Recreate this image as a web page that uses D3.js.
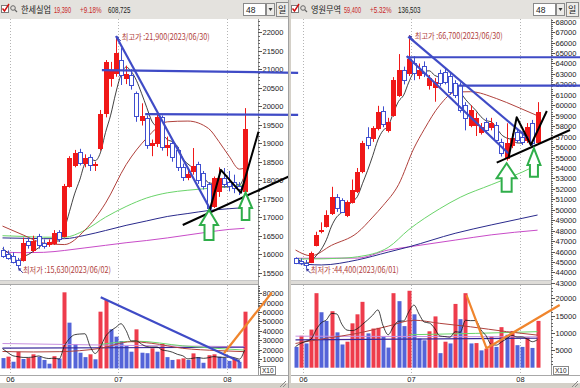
<!DOCTYPE html>
<html><head><meta charset="utf-8">
<script src="https://cdn.jsdelivr.net/npm/d3@7"></script>
<style>
html,body{margin:0;padding:0;background:#d4d0c8;}
svg{display:block;font-family:"Liberation Sans",Arial,sans-serif;}
</style></head><body>
<svg id="chart" width="580" height="388"></svg>
<script>
// ---------------- DATA ----------------
const dates = ["05/30","05/31","06/01","06/02","06/05","06/07","06/08","06/09","06/12","06/13","06/14","06/15","06/16","06/19","06/20","06/21","06/22","06/23","06/26","06/27","06/28","06/29","06/30","07/03","07/04","07/05","07/06","07/07","07/10","07/11","07/12","07/13","07/14","07/17","07/18","07/19","07/20","07/21","07/24","07/25","07/26","07/27","07/28","07/31","08/01","08/02","08/03","08/04"];

// 한세실업
const hsOpen  = [16100,16000,15950,15850,15850,16350,16120,16490,16300,16280,16300,16600,16480,17850,18410,18770,18470,18640,18420,18860,19810,20770,20890,21250,20770,20845,20350,19630,19680,18950,19000,19700,18900,19000,18820,18360,18100,18250,18450,18200,17900,17300,17700,18050,17950,17950,17850,17700];
const hsHigh  = [16200,16100,16050,15900,16450,16450,16500,16550,16400,16400,16650,16650,17900,18650,18820,18850,18700,18700,18500,19900,21250,21200,21900,21575,21100,21000,20400,20080,19750,19100,19780,19750,19180,19050,18900,18450,18300,18870,18500,18250,17950,18100,18350,18330,18250,18150,17950,19950];
const hsLow   = [15900,15850,15750,15630,15800,16150,16050,16150,16150,16200,16250,16330,16450,17800,18350,18400,18350,18250,18250,18800,19700,20530,20800,20575,20600,20450,19580,19480,18850,18650,18900,18800,18650,18500,18250,17980,18000,18150,17900,17750,17200,17250,17550,17800,17700,17650,17600,17650];
const hsClose = [15950,15900,15800,15700,16290,16250,16370,16250,16220,16340,16570,16400,17840,18600,18740,18470,18600,18420,18440,19780,21200,20950,21450,20850,20860,20580,19740,19740,18950,19000,19700,18900,18950,18630,18360,18090,18180,18380,18000,17850,17250,18050,18050,17900,17850,17800,17760,19390];
const hsVolume = [11000,12500,7100,17800,10000,11000,15000,12500,9000,5000,13000,10500,81000,48700,26000,16700,12000,15000,9700,60400,72800,41600,33800,29200,23900,17800,41600,16700,16200,21400,17800,26000,12000,9000,9700,10700,9000,16000,12000,6000,14000,15000,12500,11500,8000,10500,7000,60400];
const hsMa5   = [16150,16050,15930,15820,15930,15990,16080,16170,16280,16290,16350,16360,16670,17150,17630,18010,18450,18570,18530,18740,19290,19760,20360,20850,21060,20940,20700,20350,19970,19600,19430,19260,19100,19040,18910,18590,18440,18330,18200,18100,17930,17910,17840,17820,17820,17930,17870,18140];
const hsMa20  = [[0,16760],[4,16520],[8,16300],[12,16260],[16,16650],[20,17380],[24,18420],[28,19140],[32,19580],[36,19600],[40,19400],[42,19050],[44,18650],[46,18300],[47,18330]];
const hsMa60  = [[0,16500],[4,16480],[8,16460],[12,16460],[16,16650],[20,17000],[24,17290],[28,17520],[32,17660],[36,17730],[40,17780],[44,17830],[47,17870]];
const hsMa120 = [[0,16440],[4,16430],[8,16420],[12,16420],[16,16510],[20,16640],[24,16780],[28,16900],[32,17020],[36,17100],[40,17180],[44,17230],[47,17260]];
const hsMa240 = [[0,16060],[4,16040],[8,16050],[12,16100],[16,16170],[20,16240],[24,16310],[28,16370],[32,16440],[36,16520],[40,16600],[44,16670],[47,16700]];
const hsVolMa5 = [21000,17000,13500,12500,11680,11680,12180,13260,11500,10500,10900,10000,23700,31640,35840,36580,36880,23680,15880,22760,33980,39900,43660,47560,40260,29260,29260,25840,23240,22740,22740,19620,18680,17240,14900,13480,10080,10880,11480,10740,11400,12600,11900,11800,12200,11500,9900,19480];
const hsVolMa20 = [[0,18000],[6,17500],[11,17800],[19,21400],[25,28400],[29,26700],[35,21400],[42,18900],[47,17800]];
const hsVolMa60 = [[19,25500],[26,29000],[35,24000],[47,19500]];
const hsVolMa120 = [[0,21500],[47,22500]];
const hsVolMa240 = [[0,26500],[24,24500],[47,23100]];
const hsPriceTicks = [22000,21500,21000,20500,20000,19500,19000,18500,18000,17500,17000,16500,16000,15500];
const hsVolTicks = [80000,70000,60000,50000,40000,30000,20000,10000];

// 영원무역
const ywOpen  = [45350,45100,44950,45000,46630,47960,48440,49670,51260,50930,49500,50770,51800,53700,57000,56840,57800,59480,57640,59070,60990,63380,63060,64020,62940,63760,61940,61780,63060,63210,62800,62100,61940,60030,58110,58110,57480,58430,57900,58110,56520,54930,56200,57480,57000,56680,58300,56500];
const ywHigh  = [45450,45350,45200,46000,47900,48800,49950,52200,51500,51100,50900,52900,54000,56600,57900,58000,59950,59900,58800,62700,64900,63700,66700,64700,64000,64200,62900,62600,63400,63600,63100,62400,62200,60300,60000,59300,58300,58800,58800,58400,56800,58280,57300,57800,57500,58300,58600,60300];
const ywLow   = [44800,44700,44400,44900,46500,47750,48300,49500,49800,49700,49300,50600,51600,53500,55800,56500,57600,57900,57400,58900,60800,62000,62800,62400,62500,62700,61500,60340,61800,62000,61000,60700,59300,57600,57900,57060,57200,57300,57600,56500,55100,54700,55900,56400,56200,56400,56000,56300];
const ywClose = [44950,44900,44700,45830,47580,48060,49490,51260,50150,49810,50770,51890,53650,56360,56200,57800,59390,58210,58430,62420,63380,62420,64400,63120,63330,63060,62580,62260,62100,62260,61300,60990,59550,58750,59550,58750,57950,57640,58270,56680,55400,56360,56900,56680,56500,57950,56400,59400];
const ywVolume = [6000,9200,7000,11000,21500,16000,13500,16300,10200,6700,7500,12800,15400,19000,9900,11300,11500,9000,5800,21500,19200,12000,22200,15400,8400,7900,10500,14800,4200,7500,7000,18400,14000,21500,7000,7100,5000,5500,9000,6000,11700,9500,10600,6500,6000,8700,5700,13500];
const ywMa5   = [45300,45100,44900,45100,45590,46210,47130,48440,49310,49750,50300,50780,51250,52500,53770,55180,56680,57590,58010,59250,60370,60970,62210,63150,63330,63270,63300,62870,62670,62450,62100,61780,61240,60570,60030,59520,58910,58530,58430,57860,57190,56870,56720,56400,56370,56880,56890,57390];
const ywMa20  = [[0,46150],[3,45600],[7,46600],[12,47800],[15,49300],[17,50400],[20,52400],[23,55900],[25,57700],[28,60000],[31,61250],[34,61300],[39,60650],[43,59850],[47,59000]];
const ywMa60  = [[0,45300],[3,45300],[8,45350],[12,45500],[18,46400],[22,48100],[28,50100],[32,51200],[38,52400],[44,53600],[47,54300]];
const ywMa120 = [[0,44880],[5,44720],[12,45200],[18,45950],[22,46450],[31,47750],[38,48550],[44,49180],[47,49500]];
const ywMa240 = [[0,45360],[12,45380],[18,46150],[22,46450],[31,47100],[38,47600],[47,48050]];
const ywVolMa5 = [6100,7000,7600,8200,10940,12940,13800,15660,15500,12540,10840,10700,11250,12500,13770,15180,16680,12140,9500,11820,13400,13500,16140,18060,15440,13180,12880,11400,9160,8980,8800,10380,10220,13680,13580,13600,10920,9220,6720,6520,7440,8340,9360,8860,8860,8260,7500,8080];
const ywVolMa20 = [[0,7000],[6,8500],[12,9900],[18,12000],[23,13700],[28,12800],[34,11800],[41,10400],[47,9400]];
const ywVolMa60 = [[22,9500],[35,9900],[47,10400]];
const ywVolMa120 = [[0,8000],[47,8500]];
const ywVolMa240 = [[0,9100],[47,8900]];
const ywPriceTicks = [68000,67000,66000,65000,64000,63000,62000,61000,60000,59000,58000,57000,56000,55000,54000,53000,52000,51000,50000,49000,48000,47000,46000,45000,44000,43000];
const ywVolTicks = [20000,15000,10000,5000];

// ---------------- DRAW ----------------
const svg = d3.select("#chart");
const defs = svg.append("defs");
const L = {
  bg: svg.append("g"), grid: svg.append("g"), content: svg.append("g"),
  anno: svg.append("g"), top: svg.append("g")
};
const C = {
  up: "#f01818", down: "#3f4fcf", vUp: "#ee3c4c", vDown: "#5464d8",
  ma5: "#111", ma20: "#b0413c", ma60: "#6ad46a", ma120: "#2a2a8c", ma240: "#c84cc8",
  trend: "#3f4bc6", black: "#000", orange: "#f0852d", green: "#2fae4a", txt: "#222"
};
const TOP = 19, PBOT = 280, VTOP = 285, XTOP = 375, BOT = 383;

function header(ox, name, price, chg, vol) {
  const g = L.top.append("g");
  g.append("rect").attr("x", ox).attr("y", 0).attr("width", 290).attr("height", TOP).attr("fill", "#e4e2de");
  g.append("rect").attr("x", ox + 1.5).attr("y", 5.5).attr("width", 7).attr("height", 7).attr("fill", "#fff").attr("stroke", "#7a7a7a");
  g.append("path").attr("d", `M${ox+2.5},8.5 L${ox+4.5},11 L${ox+9},4`).attr("fill", "none").attr("stroke", "#d01010").attr("stroke-width", 1.4);
  g.append("circle").attr("cx", ox + 13).attr("cy", 8).attr("r", 2.3).attr("fill", "none").attr("stroke", "#666");
  g.append("line").attr("x1", ox + 14.7).attr("y1", 9.7).attr("x2", ox + 17).attr("y2", 12).attr("stroke", "#666").attr("stroke-width", 1.2);
  const t = (x, s, len, col, fam) => g.append("text").attr("x", ox + x).attr("y", 12.5).text(s)
      .attr("font-size", 9).attr("fill", col).attr("textLength", len).attr("lengthAdjust", "spacingAndGlyphs")
      .style("font-family", fam || "'Liberation Sans',Arial,sans-serif");
  t(21, name, 30, "#222", "'Noto Sans CJK KR',sans-serif");
  t(54, price, 17, "#c82828");
  t(80, chg, 21.5, "#c82828");
  t(108, vol, 22.5, "#222");
  g.append("rect").attr("x", ox + 243.5).attr("y", 3.5).attr("width", 22).attr("height", 12).attr("fill", "#fff").attr("stroke", "#8a8a8a");
  g.append("text").attr("x", ox + 246).attr("y", 12.5).attr("font-size", 8.5).attr("fill", "#222").text("48");
  g.append("rect").attr("x", ox + 266.5).attr("y", 3.5).attr("width", 8).attr("height", 12).attr("fill", "#ecebe8").attr("stroke", "#8a8a8a");
  g.append("path").attr("d", `M${ox+268.5},8 L${ox+272.5},8 L${ox+270.5},11 Z`).attr("fill", "#333");
  g.append("rect").attr("x", ox + 276.5).attr("y", 2.5).attr("width", 12).attr("height", 14).attr("fill", "#ecebe8").attr("stroke", "#8a8a8a");
  g.append("text").attr("x", ox + 278).attr("y", 12.5).attr("font-size", 9).attr("fill", "#222")
    .style("font-family", "'Noto Sans CJK KR',sans-serif").text("일");
}

function panel(P) {
  const ox = P.ox, pr = P.plotR, ar = P.axisR;
  const n = P.close.length;
  const x = d3.scaleLinear().domain([0, n - 1]).range([ox + P.c0, ox + P.c0 + 5.15 * (n - 1)]);
  const y = d3.scaleLinear().domain(P.pDom).range([PBOT, TOP]);
  const yv = d3.scaleLinear().domain([0, P.vMax]).range([P.vBase, VTOP]);
  const idx = d3.range(n);

  // backgrounds
  L.bg.append("rect").attr("x", ox).attr("y", TOP).attr("width", ar - ox).attr("height", BOT - TOP).attr("fill", "#fff");
  L.bg.append("rect").attr("x", ox).attr("y", PBOT + 0.5).attr("width", pr - ox).attr("height", VTOP - PBOT - 1).attr("fill", "#dedcd8");
  L.bg.append("line").attr("x1", ox).attr("x2", pr).attr("y1", VTOP - 0.5).attr("y2", VTOP - 0.5).attr("stroke", "#a8a8a8");
  L.bg.append("line").attr("x1", ox).attr("x2", pr).attr("y1", PBOT + 0.5).attr("y2", PBOT + 0.5).attr("stroke", "#c8c8c8");
  L.bg.append("line").attr("x1", ox).attr("x2", ar).attr("y1", XTOP + 0.5).attr("y2", XTOP + 0.5).attr("stroke", "#a8a8a8");
  L.bg.append("line").attr("x1", pr + 0.5).attr("x2", pr + 0.5).attr("y1", TOP).attr("y2", XTOP).attr("stroke", "#9a9a9a");
  L.bg.append("rect").attr("x", ox).attr("y", BOT).attr("width", ar - ox).attr("height", 5).attr("fill", "#d4d0c8");

  // month gridlines + labels
  const months = idx.filter(i => i > 0 && dates[i].slice(0, 2) !== dates[i - 1].slice(0, 2));
  months.forEach(i => {
    const gx = Math.round(x(i) - 2.5) + 0.5;
    L.grid.append("line").attr("x1", gx).attr("x2", gx).attr("y1", TOP).attr("y2", PBOT)
      .attr("stroke", "#b4b4b4").attr("stroke-dasharray", "1,2");
    L.grid.append("line").attr("x1", gx).attr("x2", gx).attr("y1", VTOP).attr("y2", XTOP)
      .attr("stroke", "#b4b4b4").attr("stroke-dasharray", "1,2");
    L.grid.append("text").attr("x", gx).attr("y", 382).attr("text-anchor", "middle").attr("font-size", 7.5)
      .attr("fill", C.txt).text(dates[i].slice(0, 2));
  });

  // clip paths
  defs.append("clipPath").attr("id", "cp" + P.id).append("rect").attr("x", ox).attr("y", TOP).attr("width", pr - ox).attr("height", PBOT - TOP);
  defs.append("clipPath").attr("id", "cv" + P.id).append("rect").attr("x", ox).attr("y", VTOP).attr("width", pr - ox).attr("height", XTOP - VTOP);
  const gp = L.content.append("g").attr("clip-path", `url(#cp${P.id})`);
  const gv = L.content.append("g").attr("clip-path", `url(#cv${P.id})`);

  const curve = (knots, sc, col, w) => gp.append("path").datum(knots).attr("fill", "none").attr("stroke", col).attr("stroke-width", w)
      .attr("d", d3.line().x(d => x(d[0])).y(d => sc(d[1])).curve(d3.curveMonotoneX));
  curve(P.ma240, y, C.ma240, 1);
  curve(P.ma120, y, C.ma120, 1);
  curve(P.ma60, y, C.ma60, 1);
  curve(P.ma20, y, C.ma20, 1);
  curve(P.ma5.map((v, i) => [i, v]), y, C.ma5, 0.8);

  // candles
  const xc = i => Math.round(x(i)) + 0.5;
  const isUp = i => P.close[i] >= P.open[i];
  gp.selectAll("line.wick").data(idx).join("line").attr("class", "wick")
    .attr("x1", xc).attr("x2", xc).attr("y1", i => y(P.high[i])).attr("y2", i => y(P.low[i]))
    .attr("stroke", i => isUp(i) ? C.up : C.down).attr("stroke-width", 1);
  gp.selectAll("rect.body").data(idx).join("rect").attr("class", "body")
    .attr("x", i => xc(i) - 2).attr("width", 4)
    .attr("y", i => Math.round(y(Math.max(P.open[i], P.close[i]))) + 0.5)
    .attr("height", i => Math.max(1, Math.round(y(Math.min(P.open[i], P.close[i]))) - Math.round(y(Math.max(P.open[i], P.close[i])))))
    .attr("fill", i => isUp(i) ? C.up : "#fff").attr("stroke", i => isUp(i) ? C.up : C.down).attr("stroke-width", 1);

  // volume
  gv.selectAll("rect.vol").data(idx).join("rect").attr("class", "vol")
    .attr("x", i => xc(i) - 2).attr("width", 4)
    .attr("y", i => yv(P.vol[i])).attr("height", i => P.vBase - yv(P.vol[i]))
    .attr("fill", i => (i > 0 && P.vol[i] > P.vol[i - 1]) ? C.vUp : C.vDown);
  const vcurve = (knots, col, w) => gv.append("path").datum(knots).attr("fill", "none").attr("stroke", col).attr("stroke-width", w)
      .attr("d", d3.line().x(d => x(d[0])).y(d => yv(d[1])).curve(d3.curveMonotoneX));
  vcurve(P.vma240, "#c890e0", 1);
  vcurve(P.vma120, "#3a2a9a", 1.2);
  vcurve(P.vma60, C.ma60, 1);
  vcurve(P.vma20, C.ma20, 1);
  vcurve(P.vma5.map((v, i) => [i, v]), C.ma5, 0.8);

  // price axis
  const ax = L.grid.append("g");
  const pMin = Math.ceil(P.pDom[0] / P.minor) * P.minor;
  d3.range(pMin, P.pDom[1] + 1, P.minor).forEach(v => {
    const yy = Math.round(y(v)) + 0.5;
    ax.append("line").attr("x1", pr).attr("x2", pr + 2).attr("y1", yy).attr("y2", yy).attr("stroke", "#666");
  });
  P.pTicks.forEach(v => {
    const yy = Math.round(y(v)) + 0.5;
    ax.append("line").attr("x1", pr).attr("x2", pr + 4).attr("y1", yy).attr("y2", yy).attr("stroke", "#555");
    ax.append("text").attr("x", pr + 4.5).attr("y", yy + 2.8).attr("font-size", 7.5).attr("fill", C.txt).text(v);
  });
  // volume axis
  d3.range(P.vMinor, P.vMax, P.vMinor).forEach(v => {
    const yy = Math.round(yv(v)) + 0.5;
    ax.append("line").attr("x1", pr).attr("x2", pr + 2).attr("y1", yy).attr("y2", yy).attr("stroke", "#666");
  });
  P.vTicks.forEach(v => {
    const yy = Math.round(yv(v)) + 0.5;
    ax.append("line").attr("x1", pr).attr("x2", pr + 4).attr("y1", yy).attr("y2", yy).attr("stroke", "#555");
    ax.append("text").attr("x", pr + 4.5).attr("y", yy + 2.8).attr("font-size", 7.5).attr("fill", C.txt).text(v);
  });
  ax.append("rect").attr("x", pr + 2.5).attr("y", 366.5).attr("width", 15).attr("height", 8).attr("fill", "#fff").attr("stroke", "#888");
  ax.append("text").attr("x", pr + 4).attr("y", 373).attr("font-size", 6.5).attr("fill", C.txt).text("X10");
  // resize grip
  [0, 3, 6].forEach(d => ax.append("line").attr("x1", ar - 2 - d).attr("y1", BOT + 4).attr("x2", ar - 2).attr("y2", BOT + 4 - d - 0).attr("stroke", "#8a8a8a"));

  // high / low annotations
  const A = L.anno.append("g");
  const mark = (i, v, dir, label, tx, ty) => {
    const px = x(i), py = y(v);
    A.append("line").attr("x1", px + 1.5).attr("y1", py + 1.5).attr("x2", px + 5).attr("y2", py + 5).attr("stroke", "#3a3aa0").attr("stroke-width", 1);
    A.append("path").attr("d", `M${px},${py} L${px + 3.5},${py + 1} L${px + 1},${py + 3.5} Z`).attr("fill", "#3a3aa0");
    A.append("text").attr("x", px + tx).attr("y", py + ty).attr("font-size", 8.5).attr("fill", "#b0413c")
      .attr("textLength", 88).attr("lengthAdjust", "spacingAndGlyphs")
      .style("font-family", "'Noto Sans CJK KR',sans-serif").text(label);
  };
  mark(P.hiIdx, P.high[P.hiIdx], 1, P.hiLabel, 6, 4);
  mark(P.loIdx, P.low[P.loIdx], 1, P.loLabel, 5, 5);

  // trend lines (data coordinates)
  const seg = (pts, col, w, sc) => A.append("path").datum(pts).attr("fill", "none").attr("stroke", col).attr("stroke-width", w)
      .attr("stroke-linejoin", "round").attr("d", d3.line().x(d => x(d[0])).y(d => (sc || y)(d[1])));
  P.blue.forEach(p => seg(p, C.trend, 2.2));
  P.black.forEach(p => seg(p, C.black, 2));
  P.vblue.forEach(p => seg(p, C.trend, 2.2, yv));
  P.vorange.forEach(p => seg(p, C.orange, 2.2, yv));
  P.arrows.forEach(a => {
    const cx = x(a.i), t = y(a.top), hb = y(a.head), b = y(a.bottom);
    A.append("path").attr("d", `M${cx},${t} L${cx + a.hw},${hb} L${cx + a.sw},${hb} L${cx + a.sw},${b} L${cx - a.sw},${b} L${cx - a.sw},${hb} L${cx - a.hw},${hb} Z`)
      .attr("fill", "#fff").attr("stroke", C.green).attr("stroke-width", 2).attr("stroke-linejoin", "miter");
  });
}

panel({
  id: "L", ox: 0, plotR: 258, axisR: 288, c0: 2.5,
  pDom: [15302, 22360], vMax: 88800, vBase: 368.4,
  open: hsOpen, high: hsHigh, low: hsLow, close: hsClose, vol: hsVolume,
  ma5: hsMa5, ma20: hsMa20, ma60: hsMa60, ma120: hsMa120, ma240: hsMa240,
  vma5: hsVolMa5, vma20: hsVolMa20, vma60: hsVolMa60, vma120: hsVolMa120, vma240: hsVolMa240,
  pTicks: hsPriceTicks, minor: 100, vTicks: hsVolTicks, vMinor: 2000,
  hiIdx: 22, loIdx: 3,
  hiLabel: "최고가 :21,900(2023/06/30)", loLabel: "최저가 :15,630(2023/06/02)",
  blue: [[[22.04, 21900], [40.6, 17150]], [[19.3, 20980], [57.4, 20905]], [[27.7, 19790], [57.4, 19765]]],
  black: [[[40.15, 17150], [42.4, 18280], [46.3, 17660], [49.7, 19310]], [[35, 16790], [55.8, 18115]]],
  vblue: [[[19.07, 75700], [46.1, 7100]]],
  vorange: [[[43.0, 16100], [52.3, 80800]]],
  arrows: [{i: 40.1, top: 17196, head: 16789, bottom: 16383, hw: 9, sw: 4.5},
           {i: 47.2, top: 17668, head: 17249, bottom: 16924, hw: 6.5, sw: 3.8}]
});

panel({
  id: "R", ox: 291, plotR: 551, axisR: 580, c0: 4.5,
  pDom: [43281, 68258], vMax: 23860, vBase: 367.7,
  open: ywOpen, high: ywHigh, low: ywLow, close: ywClose, vol: ywVolume,
  ma5: ywMa5, ma20: ywMa20, ma60: ywMa60, ma120: ywMa120, ma240: ywMa240,
  vma5: ywVolMa5, vma20: ywVolMa20, vma60: ywVolMa60, vma120: ywVolMa120, vma240: ywVolMa240,
  pTicks: ywPriceTicks, minor: 200, vTicks: ywVolTicks, vMinor: 1000,
  hiIdx: 22, loIdx: 2,
  hiLabel: "최고가 :66,700(2023/06/30)", loLabel: "최저가 :44,400(2023/06/01)",
  blue: [[[21.9, 66565], [45.2, 56840]], [[21.6, 64717], [41.3, 55406]], [[21.6, 64600], [55.6, 64600]], [[31.6, 61880], [55.6, 61880]]],
  black: [[[41.4, 55050], [42.95, 58850], [45.7, 56200], [48.8, 59450]], [[39.07, 54506], [53.3, 57636]]],
  vblue: [],
  vorange: [[[33.2, 20970], [37.1, 5600], [51.3, 18090]]],
  arrows: [{i: 41.0, top: 54450, head: 53013, bottom: 51731, hw: 10, sw: 5},
           {i: 46.3, top: 55884, head: 54286, bottom: 53167, hw: 6.5, sw: 4}]
});

header(0, "한세실업", "19,390", "+9.18%", "608,725");
header(290, "영원무역", "59,400", "+5.32%", "136,503");
// divider between the two windows
L.top.append("rect").attr("x", 288).attr("y", 0).attr("width", 3).attr("height", 388).attr("fill", "#d4d0c8");
L.top.append("line").attr("x1", 288.5).attr("x2", 288.5).attr("y1", 0).attr("y2", 388).attr("stroke", "#a0a0a0");
</script>
</body></html>
